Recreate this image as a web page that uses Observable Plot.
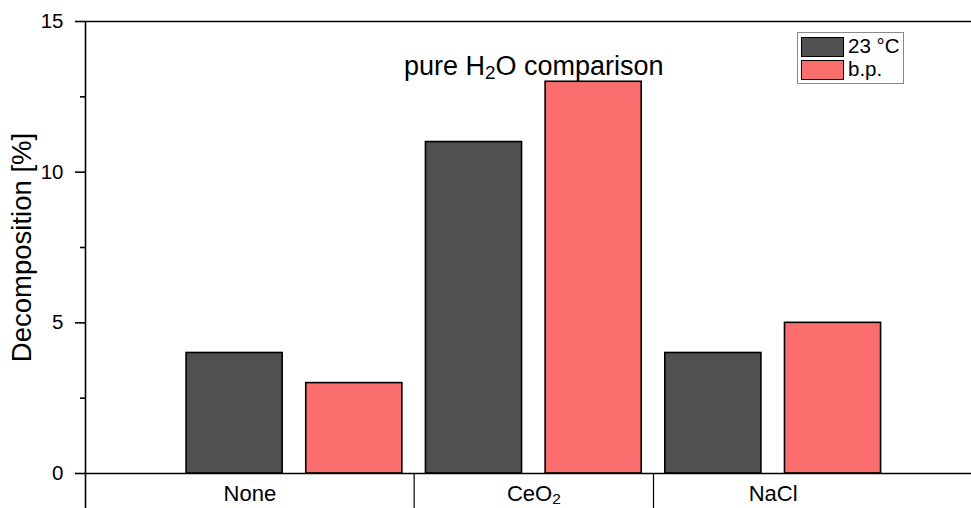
<!DOCTYPE html>
<html>
<head>
<meta charset="utf-8">
<script src="https://cdn.jsdelivr.net/npm/d3@7"></script>
<script src="https://cdn.jsdelivr.net/npm/@observablehq/plot@0.6"></script>
<style>
html, body { margin: 0; padding: 0; background: #fff; overflow: hidden; }
#wrap { position: relative; width: 971px; height: 508px; font-family: "Liberation Sans", Arial, sans-serif; }
.legend { position: absolute; left: 797px; top: 32px; width: 107px; height: 52px; border: 1px solid #8a8a8a; background: #fff; box-sizing: border-box; padding: 2px 3px; }
.legend .row { display: flex; align-items: center; height: 23px; }
.legend .sw { width: 43px; height: 20px; border: 1.6px solid #000; box-sizing: border-box; margin-right: 4px; }
.legend .lab { font-size: 20.5px; color: #000; line-height: 1; white-space: nowrap; }
</style>
</head>
<body>
<div id="wrap"></div>
<script>
// ---- data ----
const categories = ["None", "CeO₂", "NaCl"];
const seriesNames = ["23 °C", "b.p."];
const values23C = [4, 11, 4];
const valuesBP = [3, 13, 5];
const seriesColors = ["#505050", "#FA6E6E"];
const yMajorTicks = [0, 5, 10, 15];
const yMinorTicks = [2.5, 7.5, 12.5];
const titleText = "pure H₂O comparison";
const yLabel = "Decomposition [%]";

// ---- layout helpers (scale config) ----
const xDomain = [-0.746, 6.657];
const perGroup = seriesNames.length;
const rows = categories.flatMap((c, i) => seriesNames.map((s, j) => ({
  category: c, series: s, slot: i * perGroup + j, value: (j === 0 ? values23C : valuesBP)[i]
})));
const groups = categories.map((c, i) => {
  const a = i * perGroup, b = a + perGroup;
  const left = i === 0 ? xDomain[0] : a;
  return { category: c, start: a, mid: (left + b) / 2 };
});

const plot = Plot.plot({
  width: 971, height: 508,
  marginLeft: 85, marginRight: 0, marginTop: 21, marginBottom: 35,
  style: { fontFamily: "Liberation Sans, Arial, sans-serif", background: "white", color: "black", overflow: "visible" },
  x: { domain: xDomain, axis: null },
  y: { domain: [0, 15], axis: null },
  color: { domain: seriesNames, range: seriesColors },
  marks: [
    Plot.rectY(rows, { x1: "slot", x2: d => d.slot + 1, y1: 0, y2: "value", fill: "series", stroke: "#000", strokeWidth: 1.6, insetLeft: 11.8, insetRight: 11.8 }),
    Plot.ruleY([0, 15], { stroke: "#000", strokeWidth: 1.6 }),
    Plot.ruleX([xDomain[0]], { stroke: "#000", strokeWidth: 1.6, insetBottom: -35 }),
    Plot.ruleX(groups.slice(1), { x: "start", y1: 0, stroke: "#000", strokeWidth: 1.2, insetBottom: -35 }),
    Plot.axisY({ ticks: yMajorTicks, tickSize: 10, tickPadding: 12, fontSize: 20.5, stroke: "#000", strokeWidth: 1.6, label: null }),
    Plot.axisY({ ticks: yMinorTicks, tickSize: 5, tickFormat: () => "", stroke: "#000", strokeWidth: 1.6, label: null }),
    Plot.text(groups, { x: "mid", y: 0, dy: 20, text: "category", fontSize: 22 }),
    Plot.text([titleText], { x: groups[1].mid, y: 15, dy: 45, text: d => d, fontSize: 27 }),
    Plot.text([yLabel], { frameAnchor: "left", dx: -63, rotate: -90, textAnchor: "middle", text: d => d, fontSize: 27.5 })
  ]
});

// subscript rendering for "₂"
d3.select(plot).selectAll("text").each(function() {
  const t = this.textContent;
  if (!t.includes("₂")) return;
  const sel = d3.select(this);
  sel.text(null);
  const parts = t.split("₂");
  parts.forEach((p, k) => {
    if (p) sel.append("tspan").text(p);
    if (k < parts.length - 1) sel.append("tspan").attr("font-size", "70%").attr("baseline-shift", "-22%").text("2");
  });
});

const wrap = document.getElementById("wrap");
wrap.appendChild(plot);

// legend overlay
const legend = document.createElement("div");
legend.className = "legend";
seriesNames.forEach((s, i) => {
  const row = document.createElement("div");
  row.className = "row";
  const sw = document.createElement("div");
  sw.className = "sw";
  sw.style.background = seriesColors[i];
  const lab = document.createElement("span");
  lab.className = "lab";
  lab.textContent = s;
  row.appendChild(sw); row.appendChild(lab);
  legend.appendChild(row);
});
wrap.appendChild(legend);
</script>
</body>
</html>
